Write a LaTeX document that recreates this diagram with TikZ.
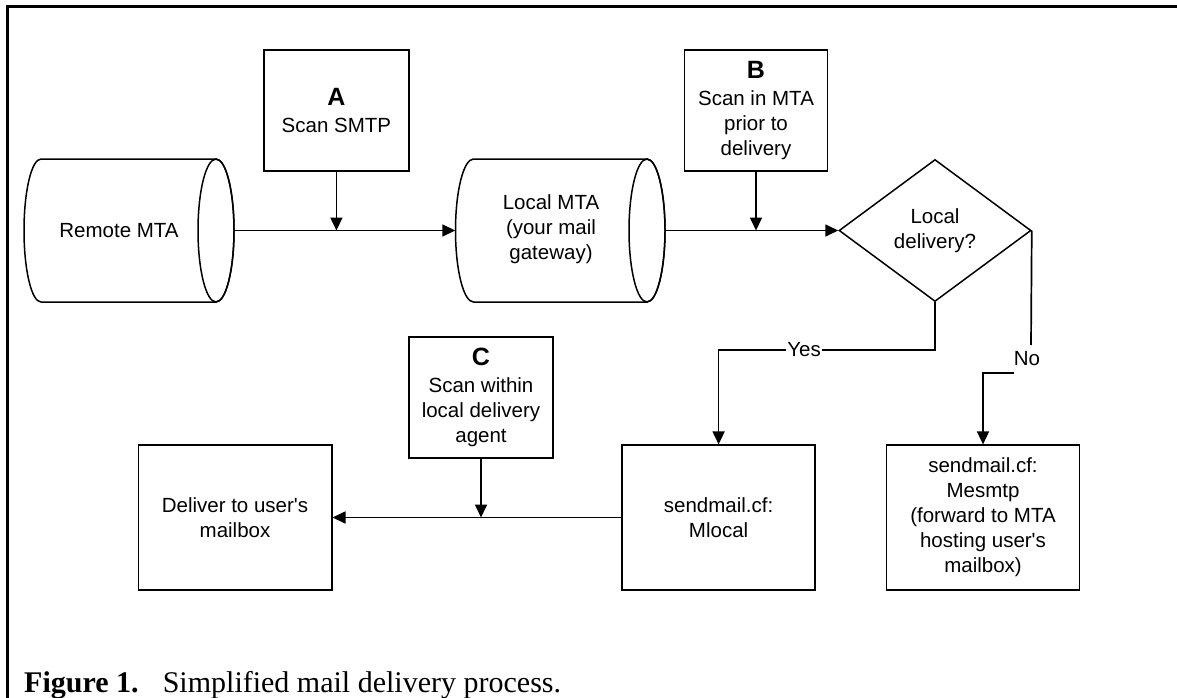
\documentclass[tikz,border=0pt]{standalone}
\usepackage{fontspec}
\setmainfont{Liberation Serif}
\newfontfamily\diagfont{Liberation Sans}
\usetikzlibrary{arrows.meta,shapes.geometric,calc}
\begin{document}
\begin{tikzpicture}[x=1pt,y=1pt,
  txt/.style={font=\diagfont\fontsize{20.5}{25}\selectfont, align=center, inner sep=0pt},
  box/.style={draw, line width=1.7pt, rectangle, inner sep=0pt, txt},
  area/.style={rectangle, inner sep=0pt},
  outline/.style={line width=1.5pt},
  conn/.style={line width=1.7pt, -{Triangle[width=12pt,length=13pt]}},
  plain/.style={line width=1.7pt},
  lbl/.style={txt, fill=white, inner sep=1.5pt},
  letter/.style={}
]
\newcommand{\bigletter}[1]{{\fontsize{25}{25}\selectfont\bfseries #1}}
\useasboundingbox (0,0) rectangle (1177,-698);
\fill[white] (0,0) rectangle (1177,-698);

% frame
\draw[line width=3pt] (7,-698) -- (7,-7) -- (1177,-7);

% Remote MTA cylinder
\node[area, minimum width=210, minimum height=143] (remote) at (129,-230.5) {};
\draw[outline] (41,-159) -- (216,-159) arc[start angle=90, end angle=-90, x radius=18, y radius=71.5]
  -- (41,-302) arc[start angle=-90, end angle=-270, x radius=17, y radius=71.5] -- cycle;
\draw[outline] (216,-230.5) ellipse [x radius=18, y radius=71.5];
\node[txt] (remotelbl) at (119,-230.5) {Remote MTA};

% Local MTA cylinder
\node[area, minimum width=209.5, minimum height=143] (local) at (560.25,-230.5) {};
\draw[outline] (473.5,-159) -- (647,-159) arc[start angle=90, end angle=-90, x radius=18, y radius=71.5]
  -- (473.5,-302) arc[start angle=-90, end angle=-270, x radius=18, y radius=71.5] -- cycle;
\draw[outline] (647,-230.5) ellipse [x radius=18, y radius=71.5];
\node[txt] (locallbl) at (551,-229) {Local MTA\\(your mail\\gateway)};

% Decision diamond
\node[diamond, draw, outline, aspect=1.35, minimum width=192, minimum height=142, inner sep=0pt, txt] (dec) at (935,-230.5) {Local\\delivery?};

% Scan boxes
\node[box, minimum width=144.7, minimum height=121] (A) at (336.4,-110.5) {\bigletter{A}\\[2.5pt]Scan SMTP};
\node[box, minimum width=142.8, minimum height=121] (B) at (756,-110.5) {\bigletter{B}\\[1.5pt]Scan in MTA\\prior to\\delivery};
\node[box, minimum width=144.3, minimum height=121] (C) at (481,-397.5) {\bigletter{C}\\[2.5pt]Scan within\\local delivery\\agent};

% Lower boxes
\node[box, minimum width=193.3, minimum height=144.5] (deliver) at (235,-517.5) {Deliver to user's\\mailbox};
\node[box, minimum width=193.4, minimum height=144.5] (mlocal) at (718.6,-517.5) {sendmail.cf:\\Mlocal};
\node[box, minimum width=193, minimum height=144.5] (mesmtp) at (983,-517.5) {sendmail.cf:\\Mesmtp\\(forward to MTA\\hosting user's\\mailbox)};

% Connectors
\draw[conn] (remote.east) -- (local.west);
\draw[conn] (A.south) -- (A.south |- remote.east);
\draw[conn] (local.east) -- (dec.west);
\draw[conn] (B.south) -- (B.south |- local.east);

\draw[conn] (dec.south) -- ++(0,-47.5) -| node[lbl, pos=0.3025] (yeslbl) {Yes} (mlocal.north);

\coordinate (noa) at (1031,-345);
\coordinate (nob) at (1014,-373);
\draw[plain] (dec.east) -- (noa);
\node[txt] (nolbl) at (1027,-359) {No};
\draw[conn] (nob) -- (nob -| mesmtp.north) -- (mesmtp.north);

\draw[conn] (mlocal.west) -- (deliver.east);
\draw[conn] (C.south) -- (C.south |- deliver.east);

% Caption
\node[anchor=base west, inner sep=0pt, font=\fontsize{30}{36}\selectfont\bfseries] (fig) at (24,-692) {Figure 1.};
\node[anchor=base west, inner sep=0pt, font=\fontsize{30}{36}\selectfont] (cap) at (162.6,-692) {Simplified mail delivery process.};
\end{tikzpicture}
\end{document}
